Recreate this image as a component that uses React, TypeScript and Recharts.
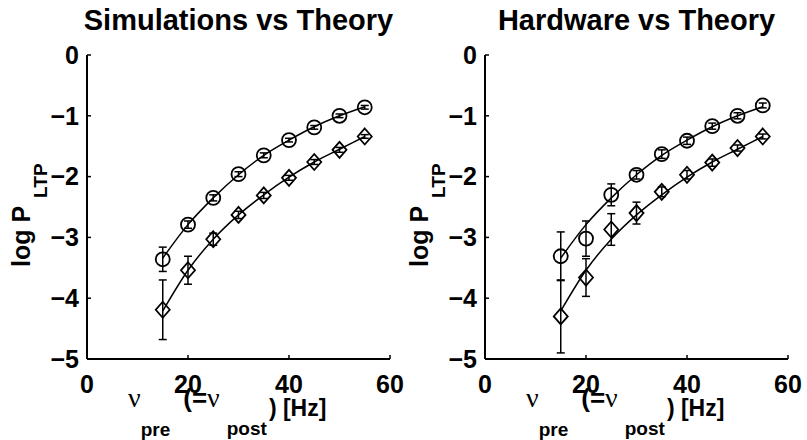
import { ComposedChart, Line, Scatter, ErrorBar, XAxis, YAxis, Label } from "recharts";

// input rate (Hz) shared by all series
const rates = [15, 20, 25, 30, 35, 40, 45, 50, 55];

// theory curves (same in both panels)
const theoryHigh = [-3.34, -2.79, -2.35, -1.97, -1.65, -1.4, -1.18, -1.0, -0.85];
const theoryLow = [-4.21, -3.54, -3.03, -2.63, -2.3, -2.01, -1.76, -1.55, -1.34];

// simulations
const simHigh = [-3.36, -2.79, -2.35, -1.96, -1.65, -1.4, -1.19, -1.0, -0.86];
const simHighErr = [0.2, 0.06, 0.05, 0.04, 0.04, 0.03, 0.03, 0.03, 0.03];
const simLow = [-4.19, -3.54, -3.03, -2.63, -2.31, -2.02, -1.76, -1.56, -1.34];
const simLowErr = [0.49, 0.23, 0.1, 0.06, 0.05, 0.04, 0.04, 0.04, 0.03];

// hardware
const hwHigh = [-3.31, -3.02, -2.3, -1.97, -1.63, -1.41, -1.17, -1.0, -0.83];
const hwHighErr = [0.4, 0.29, 0.18, 0.07, 0.07, 0.06, 0.05, 0.05, 0.04];
const hwLow = [-4.3, -3.66, -2.87, -2.6, -2.25, -1.97, -1.77, -1.53, -1.34];
const hwLowErr = [0.6, 0.31, 0.26, 0.18, 0.08, 0.07, 0.06, 0.05, 0.04];

const xTicks = [0, 20, 40, 60];
const yTicks = [0, -1, -2, -3, -4, -5];

const FONT = "'Liberation Sans', Arial, Helvetica, sans-serif";
const SYMBOL = "'Liberation Serif', 'DejaVu Serif', serif";

const theoryRows = rates.map((x, i) => ({ x, high: theoryHigh[i], low: theoryLow[i] }));
const pointRows = (ys: number[], errs: number[]) =>
  rates.map((x, i) => ({ x, y: ys[i], err: errs[i] }));

const tickStyle = { fill: "#000", fontSize: 25, fontWeight: "bold", fontFamily: FONT };
const axisLine = { stroke: "#000", strokeWidth: 2 };
const tickLine = { stroke: "#000", strokeWidth: 1.5 };

const fmtY = (v: number) => (v === 0 ? "0" : "\u2212" + Math.abs(v));

const CircleMark = (p: any) => (
  <circle cx={p.cx} cy={p.cy} r={7} fill="none" stroke="#000" strokeWidth={1.8} />
);

const DiamondMark = (p: any) => {
  const { cx, cy } = p;
  return (
    <path
      d={`M${cx},${cy - 8}L${cx + 7},${cy}L${cx},${cy + 8}L${cx - 7},${cy}Z`}
      fill="none"
      stroke="#000"
      strokeWidth={1.8}
    />
  );
};

// title above the box and the x label below it
const makeXTitle = (title: string) => (props: any) => {
  const { x, y, width } = props.viewBox;
  return (
    <g fontFamily={FONT} fontWeight="bold" fill="#000">
      <text x={x + width / 2} y={30} textAnchor="middle" fontSize={29}>
        {title}
      </text>
      <text x={x + 41} y={y + 48} fontSize={26}>
        <tspan fontFamily={SYMBOL} fontWeight="normal" fontSize={28}>ν</tspan>
        <tspan fontSize={19} dy={29}>pre</tspan>
        <tspan dy={-29} dx={13}>(=</tspan>
        <tspan fontFamily={SYMBOL} fontWeight="normal" fontSize={28}>ν</tspan>
        <tspan fontSize={19} dy={28} dx={7}>post</tspan>
        <tspan fontSize={23} dy={-19} dx={2}>) [Hz]</tspan>
      </text>
    </g>
  );
};

const YTitle = (props: any) => {
  const { x, y, height } = props.viewBox;
  return (
    <text
      transform={`translate(${x + 30}, ${y + height / 2 + 60}) rotate(-90)`}
      fontFamily={FONT}
      fontWeight="bold"
      fontSize={25}
      fill="#000"
    >
      log P
      <tspan fontSize={19} dx={8} dy={17}>LTP</tspan>
    </text>
  );
};

interface PanelProps {
  title: string;
  high: number[];
  highErr: number[];
  low: number[];
  lowErr: number[];
  left: number;
  width: number;
  rightMargin: number;
}

const Panel = ({ title, high, highErr, low, lowErr, left, width, rightMargin }: PanelProps) => (
  <div style={{ position: "absolute", left, top: 0 }}>
    <ComposedChart
      width={width}
      height={440}
      data={theoryRows}
      margin={{ top: 55, right: rightMargin, bottom: 0, left: 0 }}
    >
      <XAxis
        dataKey="x"
        type="number"
        domain={[0, 60]}
        ticks={xTicks}
        height={81}
        tickSize={-4}
        tickMargin={20}
        tick={tickStyle}
        axisLine={axisLine}
        tickLine={tickLine}
        interval={0}
      >
        <Label content={makeXTitle(title)} />
      </XAxis>
      <XAxis
        xAxisId="top"
        orientation="top"
        dataKey="x"
        type="number"
        domain={[0, 60]}
        ticks={xTicks}
        height={0}
        tickSize={-4}
        tick={false}
        axisLine={axisLine}
        tickLine={tickLine}
      />
      <YAxis
        dataKey="y"
        type="number"
        domain={[-5, 0]}
        ticks={yTicks}
        width={87}
        tickSize={-4}
        tickMargin={12}
        tick={tickStyle}
        tickFormatter={fmtY}
        axisLine={axisLine}
        tickLine={tickLine}
        interval={0}
      >
        <Label content={YTitle} />
      </YAxis>
      <YAxis
        yAxisId="right"
        orientation="right"
        type="number"
        domain={[-5, 0]}
        ticks={yTicks}
        width={0}
        tickSize={-4}
        tick={false}
        axisLine={axisLine}
        tickLine={tickLine}
      />
      <Line type="monotone" dataKey="high" stroke="#000" strokeWidth={1.5} dot={false} isAnimationActive={false} />
      <Line type="monotone" dataKey="low" stroke="#000" strokeWidth={1.5} dot={false} isAnimationActive={false} />
      <Scatter data={pointRows(high, highErr)} dataKey="y" shape={CircleMark} isAnimationActive={false}>
        <ErrorBar dataKey="err" direction="y" width={4} stroke="#000" strokeWidth={1.5} />
      </Scatter>
      <Scatter data={pointRows(low, lowErr)} dataKey="y" shape={DiamondMark} isAnimationActive={false}>
        <ErrorBar dataKey="err" direction="y" width={4} stroke="#000" strokeWidth={1.5} />
      </Scatter>
    </ComposedChart>
  </div>
);

export default function App() {
  return (
    <div style={{ position: "absolute", left: 0, top: 0, width: 807, height: 440, background: "#fff" }}>
      <Panel
        title="Simulations vs Theory"
        high={simHigh}
        highErr={simHighErr}
        low={simLow}
        lowErr={simLowErr}
        left={0}
        width={420}
        rightMargin={30}
      />
      <Panel
        title="Hardware vs Theory"
        high={hwHigh}
        highErr={hwHighErr}
        low={hwLow}
        lowErr={hwLowErr}
        left={398}
        width={409}
        rightMargin={19}
      />
    </div>
  );
}
